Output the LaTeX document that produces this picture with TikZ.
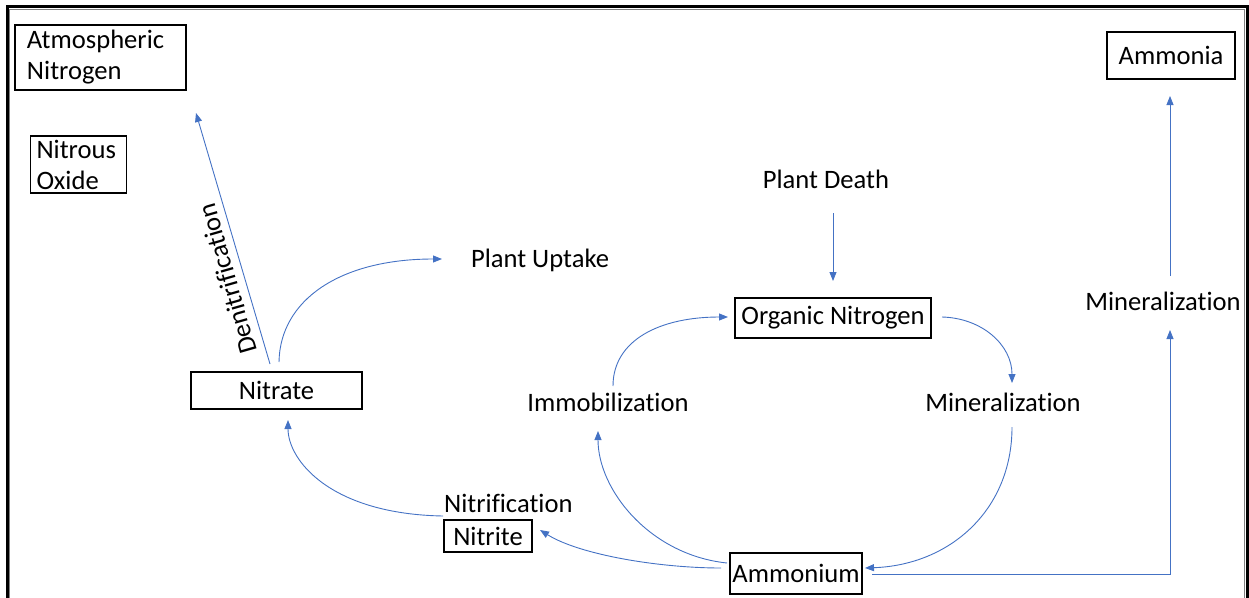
\documentclass[tikz,border=0pt]{standalone}
\usepackage{fontspec}
\setmainfont{Carlito}[Ligatures=NoCommon]
\usetikzlibrary{arrows.meta}
\definecolor{flow}{HTML}{4472C4}
\tikzset{
  box/.style={draw=black, line width=1.3pt, inner sep=0pt, font=\fontsize{26.6}{31}\selectfont},
  lbl/.style={inner sep=0pt, font=\fontsize{26.6}{31}\selectfont},
  flowline/.style={draw=flow, line width=0.9pt, -{Triangle[length=9pt,width=7pt]}},
  flowplain/.style={draw=flow, line width=0.9pt}
}
\begin{document}
\begin{tikzpicture}[x=1pt,y=-1pt]
\useasboundingbox (0,0) rectangle (1249,597);
% frame
\draw[line width=3.5pt, black] (7.5,600) -- (7.5,6.5) -- (1247.5,6.5) -- (1247.5,600);
\draw[line width=0.8pt, gray] (9.8,600) -- (9.8,9.5) -- (1244.8,9.5) -- (1244.8,600);

% boxes
\node[box, minimum width=171pt, minimum height=65pt, text width=147pt, inner xsep=12pt, align=left] (atm) at (100.5,57.5) {Atmospheric\\Nitrogen};
\node[box, minimum width=95pt, minimum height=57pt, text width=84pt, inner xsep=6pt, align=left] (n2o) at (78.5,164.5) {Nitrous\\Oxide};
\node[box, minimum width=171pt, minimum height=37pt] (nitrate) at (276.5,390.5) {Nitrate};
\node[box, minimum width=88pt, minimum height=32pt] (nitrite) at (488,536) {Nitrite};
\node[box, minimum width=132pt, minimum height=41pt] (ammonium) at (796,573.5) {Ammonium};
\node[box, minimum width=196pt, minimum height=40pt] (organic) at (833,318) {Organic Nitrogen};
\node[box, minimum width=128pt, minimum height=47pt] (ammonia) at (1171,55.5) {Ammonia};

% labels
\node[lbl, anchor=west] (nitrif) at (444,503) {Nitrification};
\node[lbl] (uptake) at (540,260) {Plant Uptake};
\node[lbl] (death) at (826,179) {Plant Death};
\node[lbl] (immob) at (608,402) {Immobilization};
\node[lbl] (minmid) at (1003,402) {Mineralization};
\node[lbl] (minright) at (1163,301) {Mineralization};
\node[lbl, rotate=106] (denit) at (227,279) {Denitrification};

% free ends
\coordinate (denitA) at (270,364);
\coordinate (denitB) at (196,113);
\coordinate (upA) at (279,362);
\coordinate (upB) at (442,259);
\coordinate (nfA) at (443,516);
\coordinate (nfB) at (288,420);
\coordinate (amNiA) at (721,568);
\coordinate (amNiB) at (540,530);
\coordinate (amImA) at (727,563);
\coordinate (amImB) at (598,431);
\coordinate (imOrA) at (613,386);
\coordinate (imOrB) at (728,317);
\coordinate (pdA) at (833,213);
\coordinate (pdB) at (833,281);
\coordinate (orMiA) at (942,317);
\coordinate (orMiB) at (1012,383);
\coordinate (miAmA) at (1012,427);
\coordinate (miAmB) at (865,568);
\coordinate (amMrA) at (872,574);
\coordinate (amMrB) at (1170,330);
\coordinate (mrAaA) at (1170,276);
\coordinate (mrAaB) at (1170,96);

% connectors
\draw[flowline] (denitA) -- (denitB);
\draw[flowline] (upA) .. controls (280,300) and (340,259) .. (upB);
\draw[flowline] (nfA) .. controls (330,514) and (288,460) .. (nfB);
\draw[flowline] (amNiA) .. controls (660,568) and (580,555) .. (amNiB);
\draw[flowline] (amImA) .. controls (650,555) and (598,490) .. (amImB);
\draw[flowline] (imOrA) .. controls (613,340) and (660,317) .. (imOrB);
\draw[flowline] (pdA) -- (pdB);
\draw[flowline] (orMiA) .. controls (982,318) and (1012,345) .. (orMiB);
\draw[flowline] (miAmA) .. controls (1012,510) and (950,565) .. (miAmB);
\draw[flowline] (amMrA) -| (amMrB);
\draw[flowline] (mrAaA) -- (mrAaB);
\end{tikzpicture}
\end{document}
